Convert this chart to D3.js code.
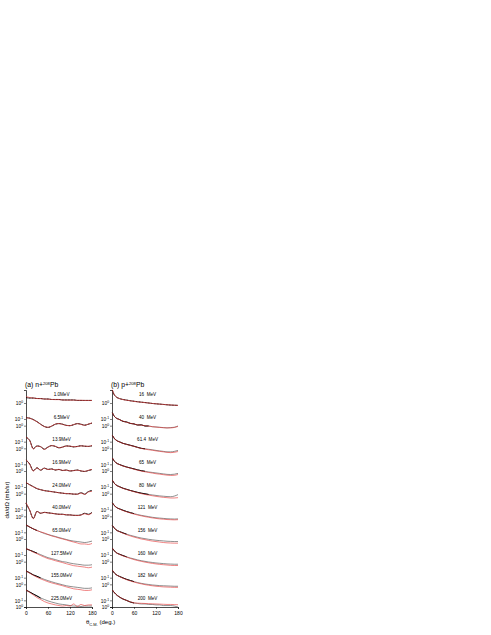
<!DOCTYPE html>
<html>
<head>
<meta charset="utf-8">
<script src="https://cdnjs.cloudflare.com/ajax/libs/d3/7.8.5/d3.min.js"></script>
<style>
  body { margin: 0; background: #fff; }
  text { font-family: "Liberation Sans", Arial, sans-serif; fill: #000; }
</style>
</head>
<body>
<div id="chart"></div>
<script>
// angles (deg) of the sampled points
var angA = [0,10,20,30,40,50,60,70,80,90,100,110,120,130,140,150,160,170,180];
var angB = [1,5,10,20,30,40,50,60,70,80,90,100,110,120,130,140,150,160,170,180];

var energyA = ["1.0MeV","6.5MeV","13.9MeV","16.9MeV","24.0MeV","40.0MeV","65.0MeV","127.5MeV","155.0MeV","225.0MeV"];
var energyB = ["16  MeV","40  MeV","61.4  MeV","65  MeV","80  MeV","121  MeV","156  MeV","160  MeV","182  MeV","200  MeV"];

// log10 of the (scaled) cross section, one row per energy
var nBlack = [
  [.34,.31,.31,.28,.28,.25,.25,.22,.22,.22,.19,.19,.19,.19,.16,.16,.16,.16,.16],
  [.50,.47,.38,.25,.09,-.05,-.11,-.03,.09,.13,.09,.02,0,.06,.13,.09,.03,.09,.16],
  [.69,.50,-.02,.15,.10,-.05,.08,.17,.12,.03,.08,.15,.13,.09,.12,.16,.13,.12,.16],
  [.69,.44,.02,.20,.05,.18,.10,.13,.06,.10,.03,.06,0,.03,.06,0,-.03,.03,.09],
  [.69,.56,.44,.31,.25,.19,.16,.13,.09,.06,.03,0,0,-.03,-.03,.06,-.03,.13,.19],
  [.81,.38,-.13,.31,.19,.25,.22,.19,.16,.13,.13,.09,.09,.06,.06,.09,.19,.13,.25],
  [.88,.75,.63,.53,.44,.34,.28,.22,.16,.09,.03,-.03,-.09,-.13,-.16,-.19,-.22,-.19,-.13],
  [.81,.72,.63,.53,.44,.34,.25,.19,.13,.06,0,-.03,-.09,-.13,-.16,-.19,-.22,-.22,-.19],
  [.84,.72,.59,.50,.40,.31,.23,.16,.09,.03,-.03,-.09,-.13,-.16,-.19,-.22,-.25,-.25,-.22],
  [1.06,.94,.81,.69,.56,.47,.38,.31,.25,.19,.16,.13,.09,.06,.06,.03,.06,.06,.06]
];
var nRed = [
  [.40,.34,.31,.28,.27,.25,.24,.22,.21,.21,.19,.18,.18,.18,.17,.17,.16,.16,.16],
  [.49,.46,.37,.24,.08,-.06,-.10,-.02,.10,.13,.08,.01,0,.07,.12,.08,.02,.10,.17],
  [.70,.48,-.04,.14,.10,-.07,.07,.17,.13,.04,.08,.14,.14,.10,.11,.15,.14,.12,.18],
  [.70,.42,0,.19,.06,.17,.09,.12,.07,.09,.04,.05,.01,.02,.05,.01,-.02,.04,.10],
  [.70,.55,.42,.33,.24,.20,.15,.12,.10,.05,.03,.01,-.01,-.02,-.04,.04,-.05,.10,.15],
  [.85,.40,-.15,.30,.20,.24,.21,.19,.15,.13,.12,.10,.08,.07,.05,.08,.16,.10,.22],
  [.88,.75,.63,.53,.44,.38,.28,.19,.13,.06,0,-.06,-.13,-.19,-.25,-.31,-.31,-.34,-.28],
  [.81,.72,.59,.50,.38,.28,.19,.13,.06,0,-.06,-.13,-.19,-.25,-.28,-.31,-.34,-.38,-.34],
  [.84,.70,.56,.44,.34,.25,.16,.09,.03,-.03,-.09,-.16,-.22,-.28,-.31,-.34,-.38,-.38,-.34],
  [1.06,.91,.75,.59,.47,.34,.25,.19,.13,.09,.06,.09,.06,.19,.03,.16,.09,.13,.13]
];
var pBlack = [
  [.81,.56,.41,.28,.22,.18,.14,.11,.08,.05,.03,0,-.03,-.05,-.07,-.09,-.11,-.13,-.14,-.15],
  [.81,.63,.50,.39,.27,.23,.14,.11,.04,.05,-.02,-.02,-.07,-.08,-.10,-.12,-.14,-.12,-.10,-.02],
  [.81,.66,.53,.41,.31,.25,.19,.13,.06,0,-.03,-.06,-.09,-.13,-.16,-.19,-.22,-.22,-.19,-.13],
  [.81,.66,.53,.41,.32,.25,.19,.13,.07,.02,-.02,-.06,-.09,-.12,-.15,-.18,-.21,-.22,-.20,-.15],
  [.84,.69,.56,.44,.34,.27,.20,.14,.08,.03,-.01,-.05,-.08,-.11,-.14,-.16,-.18,-.19,-.15,-.06],
  [.84,.72,.59,.47,.38,.30,.23,.17,.11,.06,.02,-.02,-.06,-.09,-.11,-.13,-.15,-.16,-.17,-.16],
  [.84,.72,.59,.47,.38,.30,.23,.17,.11,.06,.02,-.02,-.05,-.08,-.10,-.12,-.14,-.15,-.16,-.16],
  [.84,.72,.59,.47,.38,.30,.23,.17,.11,.06,.02,-.02,-.05,-.08,-.10,-.12,-.14,-.15,-.16,-.16],
  [.88,.75,.63,.50,.40,.31,.24,.17,.11,.06,.02,-.01,-.04,-.06,-.08,-.09,-.10,-.11,-.12,-.12],
  [1.06,.94,.81,.63,.50,.41,.31,.25,.22,.19,.19,.16,.16,.13,.13,.09,.09,.09,.06,0]
];
var pRed = [
  [.83,.57,.41,.28,.21,.17,.14,.10,.07,.05,.02,0,-.03,-.05,-.07,-.09,-.11,-.12,-.14,-.15],
  [.81,.63,.50,.38,.28,.21,.15,.10,.05,.03,0,-.03,-.06,-.09,-.11,-.13,-.14,-.14,-.11,-.05],
  [.81,.66,.53,.40,.31,.24,.18,.12,.05,-.01,-.05,-.09,-.12,-.16,-.19,-.22,-.25,-.27,-.25,-.20],
  [.81,.66,.53,.40,.31,.24,.18,.11,.05,-.01,-.05,-.09,-.13,-.17,-.20,-.23,-.26,-.28,-.27,-.22],
  [.84,.69,.56,.43,.33,.26,.19,.12,.06,0,-.05,-.09,-.13,-.17,-.20,-.23,-.25,-.27,-.27,-.25],
  [.84,.72,.59,.46,.36,.28,.21,.14,.08,.03,-.02,-.06,-.10,-.13,-.16,-.18,-.20,-.21,-.22,-.21],
  [.84,.72,.59,.46,.36,.27,.19,.12,.06,0,-.04,-.09,-.13,-.16,-.19,-.22,-.24,-.25,-.26,-.26],
  [.84,.72,.59,.46,.36,.28,.20,.13,.07,.02,-.03,-.07,-.11,-.14,-.17,-.19,-.21,-.23,-.24,-.24],
  [.88,.75,.63,.49,.38,.29,.21,.14,.08,.03,-.02,-.06,-.09,-.12,-.14,-.16,-.17,-.18,-.19,-.19],
  [1.06,.94,.81,.63,.50,.41,.32,.26,.24,.23,.22,.21,.20,.19,.18,.17,.16,.16,.15,.14]
];
// angular range covered by the measured points
var dataMaxA = [180,180,180,180,180,180,30,30,40,40];
var dataMaxB = [180,100,90,90,100,60,40,40,60,60];

// decades each curve is shifted down from the one above
var SHIFT = 1.4167;

var svg = d3.select("#chart").append("svg")
  .attr("width", 491).attr("height", 635);

var y = d3.scaleLog()
  .domain([Math.pow(10, -9 * SHIFT), Math.pow(10, 0.8125)])
  .range([607, 390]);

function drawPanel(x0, angles, black, red, dataMax, energies, title) {
  var x = d3.scaleLinear().domain([0, 180]).range([x0, x0 + 66]);
  var g = svg.append("g");

  // y ticks: 10^0 for every curve, 10^-1 of the curve above
  var ticks = [];
  energies.forEach(function(e, i) {
    ticks.push({v: Math.pow(10, -SHIFT * i), e: "0"});
    if (i < energies.length - 1) ticks.push({v: Math.pow(10, -SHIFT * i - 1), e: "-1"});
  });
  var expOf = new Map(ticks.map(function(t) { return [t.v, t.e]; }));

  var ya = g.append("g")
    .attr("transform", "translate(" + x0 + ",0)")
    .call(d3.axisLeft(y).tickValues(ticks.map(function(t) { return t.v; })).tickSize(2).tickFormat(""));
  ya.select(".domain").attr("stroke-width", 0.7);
  ya.selectAll(".tick line").attr("stroke-width", 0.5);
  ya.selectAll(".tick").each(function(d) {
    var t = d3.select(this).append("text")
      .attr("x", -3).attr("dy", "0.35em")
      .attr("text-anchor", "end")
      .attr("fill", "#000")
      .attr("font-size", 4.8);
    t.append("tspan").text("10");
    t.append("tspan").attr("dy", -1.8).attr("font-size", 3.3).text(expOf.get(d));
  });

  var xa = g.append("g")
    .attr("transform", "translate(0,607)")
    .call(d3.axisBottom(x).tickValues([0, 60, 120, 180]).tickSize(2));
  xa.select(".domain").attr("stroke-width", 0.7);
  xa.selectAll(".tick line").attr("stroke-width", 0.5);
  xa.selectAll(".tick text").attr("font-size", 5).attr("dy", "0.5em").attr("fill", "#000")
    .style("font-family", "Liberation Sans, Arial, sans-serif");

  energies.forEach(function(e, i) {
    var off = -SHIFT * i;
    var line = d3.line()
      .x(function(d) { return x(d[0]); })
      .y(function(d) { return y(Math.pow(10, d[1] + off)); })
      .curve(d3.curveMonotoneX);
    var bPts = angles.map(function(a, k) { return [a, black[i][k]]; });
    var rPts = angles.map(function(a, k) { return [a, red[i][k]]; });

    g.append("path").attr("d", line(bPts))
      .attr("fill", "none").attr("stroke", "#444").attr("stroke-width", 0.6);
    g.append("path").attr("d", line(bPts.filter(function(p) { return p[0] <= dataMax[i]; })))
      .attr("fill", "none").attr("stroke", "#000").attr("stroke-width", 1.0)
      .attr("stroke-dasharray", dataMax[i] >= 180 ? "0.9,0.6" : null);
    g.append("path").attr("d", line(rPts))
      .attr("fill", "none").attr("stroke", "#e53030").attr("stroke-width", 0.6);

    g.append("text")
      .attr("x", x(97)).attr("y", y(Math.pow(10, off)) - 7)
      .attr("text-anchor", "middle")
      .attr("font-size", 4.6)
      .attr("fill", "#000")
      .style("white-space", "pre")
      .text(e);
  });

  var tt = g.append("text").attr("x", x0 - 1).attr("y", 387).attr("font-size", 6.8).attr("fill", "#000");
  tt.append("tspan").text(title[0]);
  tt.append("tspan").attr("dy", -2.5).attr("font-size", 4.2).text("208");
  tt.append("tspan").attr("dy", 2.5).text("Pb");
}

drawPanel(26, angA, nBlack, nRed, dataMaxA, energyA, ["(a)  n+"]);
drawPanel(112, angB, pBlack, pRed, dataMaxB, energyB, ["(b)  p+"]);

// axis titles
svg.append("text")
  .attr("transform", "translate(9,500) rotate(-90)")
  .attr("text-anchor", "middle")
  .attr("font-size", 6)
  .attr("fill", "#000")
  .text("d\u03c3/d\u03a9 (mb/sr)");

var xt = svg.append("text").attr("x", 86).attr("y", 624).attr("font-size", 6).attr("fill", "#000");
xt.append("tspan").text("\u03b8");
xt.append("tspan").attr("dy", 1.8).attr("font-size", 4).text("C.M.");
xt.append("tspan").attr("dy", -1.8).text(" (deg.)");
</script>
</body>
</html>
